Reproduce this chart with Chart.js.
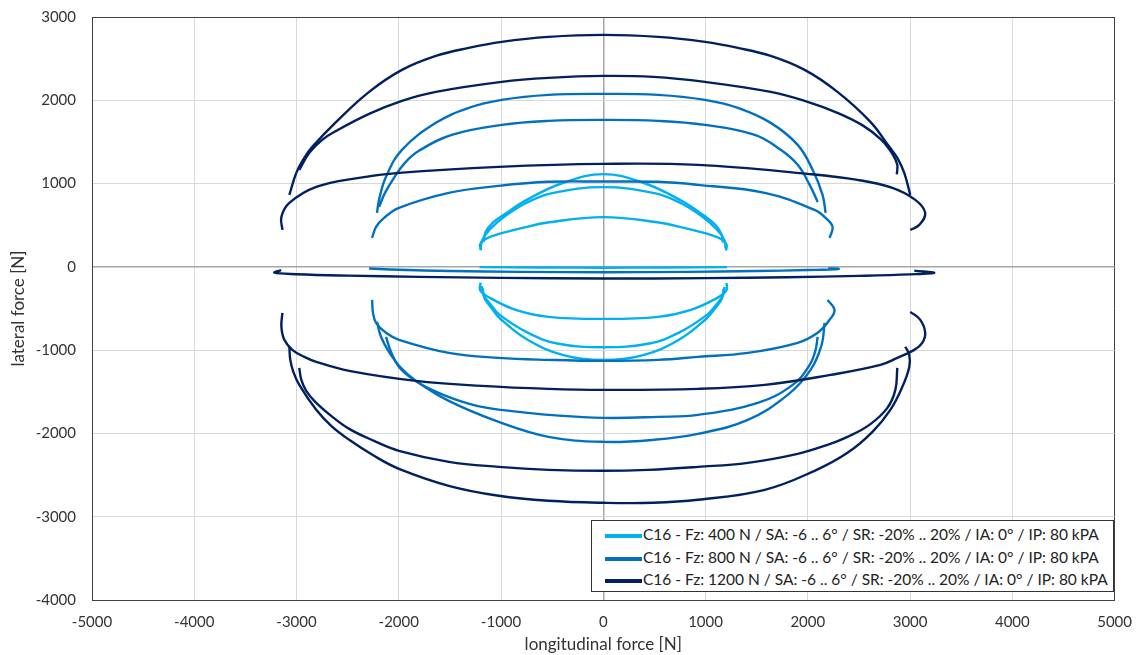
<!DOCTYPE html>
<html>
<head>
<meta charset="utf-8">
<script src="https://cdn.jsdelivr.net/npm/chart.js@4.4.0/dist/chart.umd.min.js"></script>
<style>
  body { margin: 0; background: #fff; }
  #wrap { position: relative; width: 1145px; height: 655px; }
  #legend {
    position: absolute; left: 591px; top: 520px; width: 521px; height: 70px;
    border: 1px solid #333; background: #fff;
    font-family: Lato, "Open Sans", sans-serif; font-size: 15.5px; color: #222;
  }
  .row { position: absolute; left: 13px; height: 18px; line-height: 18px; white-space: nowrap; }
  .row span.ln { display: inline-block; width: 37px; height: 4px; vertical-align: middle; margin-right: 1px; }
</style>
</head>
<body>
<div id="wrap">
  <canvas id="myChart" width="1145" height="655"></canvas>
  <div id="legend"></div>
</div>
<script>
// tick settings
const xMin = -5000, xMax = 5000
const yMin = -4000, yMax = 3000
const step = 1000

const seriesNames = [
  'C16 - Fz: 400 N / SA: -6 .. 6° / SR: -20% .. 20% / IA: 0° / IP: 80 kPA',
  'C16 - Fz: 800 N / SA: -6 .. 6° / SR: -20% .. 20% / IA: 0° / IP: 80 kPA',
  'C16 - Fz: 1200 N / SA: -6 .. 6° / SR: -20% .. 20% / IA: 0° / IP: 80 kPA'
]
const seriesColors = ['#00B0F0', '#0070C0', '#002060']

// Fz 400 N, one sweep per slip angle  [Fx, Fy]
const fz400_sa6 = [[-1170,300],[-1150,420],[-1080,530],[-980,620],[-740,810],[-390,1010],[0,1113],[390,1010],[740,810],[980,620],[1100,500],[1160,380],[1170,290]]
const fz400_sa4 = [[-1200,210],[-1185,320],[-1110,450],[-960,610],[-750,770],[-500,885],[0,957],[500,885],[750,770],[960,610],[1110,450],[1185,320],[1195,220]]
const fz400_sa2 = [[-1195,200],[-1205,270],[-1150,335],[-1020,395],[-800,465],[-530,535],[0,597],[530,535],[800,465],[1020,395],[1150,335],[1205,270],[1200,195]]
const fz400_sa0 = [[-1210,-3],[-600,-8],[0,-10],[600,-8],[1210,-3]]
const fz400_sam2 = [[-1200,-190],[-1205,-280],[-1120,-365],[-857,-516],[-536,-600],[0,-625],[536,-600],[857,-516],[1120,-370],[1205,-280],[1205,-195]]
const fz400_sam4 = [[-1190,-230],[-1170,-340],[-1100,-455],[-1010,-580],[-740,-790],[-450,-920],[0,-965],[450,-920],[740,-790],[1010,-580],[1100,-460],[1170,-345],[1185,-240]]
const fz400_sam6 = [[-1180,-260],[-1160,-380],[-1090,-500],[-1010,-620],[-740,-876],[-390,-1060],[0,-1117],[390,-1060],[740,-876],[1010,-620],[1095,-495],[1160,-380],[1175,-265]]

// Fz 800 N
const fz800_sa6 = [[-2213,648],[-2193,804],[-2125,1081],[-1969,1405],[-1637,1729],[-1316,1909],[-994,2005],[-536,2065],[0,2077],[536,2065],[994,2005],[1316,1909],[1637,1729],[1901,1465],[2047,1165],[2144,864],[2174,648]]
const fz800_sa4 = [[-2193,720],[-2135,888],[-2047,1069],[-1940,1249],[-1803,1393],[-1482,1585],[-994,1705],[-536,1753],[0,1765],[536,1753],[994,1705],[1482,1585],[1735,1405],[1901,1225],[2018,985],[2096,780]]
const fz800_sa2 = [[-2261,348],[-2222,480],[-2144,588],[-1998,708],[-1511,888],[-1023,972],[-536,1021],[0,1024],[536,1021],[926,984],[1579,888],[2066,684],[2174,588],[2242,480],[2213,348]]
const fz800_sa0 = [[-2290,-20],[-2000,-35],[-1500,-50],[-800,-60],[0,-65],[800,-60],[1500,-50],[2000,-38],[2300,-25],[2200,-15]]
const fz800_sam2 = [[-2261,-396],[-2252,-552],[-2222,-672],[-2125,-792],[-1998,-876],[-1511,-1033],[-1023,-1093],[-536,-1117],[0,-1129],[536,-1117],[926,-1081],[1413,-1033],[1901,-912],[2096,-792],[2213,-636],[2261,-516],[2193,-396]]
const fz800_sam4 = [[-2125,-840],[-2076,-1021],[-1998,-1201],[-1852,-1357],[-1676,-1477],[-1462,-1585],[-1189,-1681],[-828,-1741],[-536,-1777],[0,-1813],[536,-1801],[926,-1777],[1511,-1633],[1852,-1417],[2018,-1177],[2076,-997],[2096,-840]]
const fz800_sam6 = [[-2213,-660],[-2174,-840],[-2096,-1021],[-1979,-1213],[-1832,-1369],[-1511,-1609],[-1023,-1861],[-536,-2041],[0,-2101],[487,-2077],[926,-2005],[1413,-1837],[1803,-1537],[2027,-1237],[2135,-936],[2164,-672]]

// Fz 1200 N
const fz1200_sa6 = [[-3070,864],[-3002,1129],[-2924,1309],[-2846,1441],[-2612,1741],[-2290,2101],[-1969,2365],[-1637,2533],[-1316,2629],[-994,2701],[-536,2761],[0,2785],[536,2761],[994,2701],[1316,2629],[1637,2533],[1969,2365],[2290,2101],[2612,1741],[2797,1441],[2875,1309],[2943,1129],[3002,864]]
const fz1200_sa4 = [[-2973,1165],[-2875,1369],[-2749,1525],[-2612,1633],[-2290,1837],[-1969,1993],[-1637,2101],[-994,2221],[-536,2269],[0,2293],[487,2281],[994,2221],[1637,2101],[1969,1993],[2290,1849],[2544,1693],[2720,1525],[2827,1357],[2875,1225],[2870,1110]]
const fz1200_sa2 = [[-3138,444],[-3148,600],[-3070,768],[-2807,960],[-2388,1069],[-1998,1129],[-1023,1201],[0,1237],[926,1225],[1998,1117],[2485,1045],[2827,948],[3051,804],[3148,648],[3090,504],[3002,444]]
const fz1200_sa0 = [[-3150,-40],[-3216,-70],[-3000,-88],[-2500,-105],[-1800,-120],[-1000,-132],[0,-140],[1000,-135],[1800,-125],[2500,-108],[3000,-90],[3236,-72],[3041,-45]]
const fz1200_sam2 = [[-3138,-552],[-3148,-720],[-3119,-876],[-3041,-997],[-2924,-1081],[-2807,-1141],[-2485,-1249],[-1832,-1369],[-1189,-1429],[-536,-1465],[0,-1477],[926,-1465],[1579,-1417],[2222,-1297],[2710,-1177],[2875,-1093],[3041,-997],[3119,-912],[3148,-792],[3100,-636],[3002,-540]]
const fz1200_sam4 = [[-2973,-1213],[-2953,-1357],[-2905,-1489],[-2817,-1621],[-2661,-1789],[-2485,-1945],[-2242,-2089],[-1998,-2209],[-1511,-2341],[-1023,-2401],[-536,-2437],[0,-2449],[439,-2437],[926,-2401],[1413,-2353],[1901,-2245],[2193,-2137],[2388,-2041],[2602,-1897],[2778,-1693],[2856,-1477],[2875,-1213]]
const fz1200_sam6 = [[-3070,-960],[-3061,-1117],[-3031,-1261],[-2973,-1417],[-2807,-1717],[-2661,-1909],[-2485,-2077],[-2242,-2269],[-1998,-2425],[-1511,-2629],[-1023,-2749],[-536,-2809],[0,-2833],[487,-2833],[926,-2797],[1579,-2677],[2066,-2449],[2388,-2233],[2632,-1981],[2807,-1717],[2924,-1441],[2992,-1201],[2992,-1057],[2953,-960]]

const groups = [
  [fz400_sa6, fz400_sa4, fz400_sa2, fz400_sa0, fz400_sam2, fz400_sam4, fz400_sam6],
  [fz800_sa6, fz800_sa4, fz800_sa2, fz800_sa0, fz800_sam2, fz800_sam4, fz800_sam6],
  [fz1200_sa6, fz1200_sa4, fz1200_sa2, fz1200_sa0, fz1200_sam2, fz1200_sam4, fz1200_sam6]
]

const fontFam = 'Lato, "Open Sans", sans-serif'
const textCol = '#333'

const datasets = []
groups.forEach((sweeps, g) => {
  sweeps.forEach(pts => {
    datasets.push({
      label: seriesNames[g],
      data: pts.map(p => ({x: p[0], y: p[1]})),
      showLine: true,
      borderColor: seriesColors[g],
      backgroundColor: seriesColors[g],
      borderWidth: 2.4,
      pointRadius: 0,
      tension: 0.4,
      order: 3 - g
    })
  })
})

function gridCol(ctx, lo, hi) {
  const v = ctx.tick.value
  if (v === 0) return '#a6a6a6'
  if (v === lo || v === hi) return '#404040'
  return '#d9d9d9'
}

const ctx = document.getElementById('myChart').getContext('2d')
const myChart = new Chart(ctx, {
  type: 'scatter',
  data: { datasets: datasets },
  options: {
    responsive: false,
    animation: false,
    layout: { padding: { left: 0, top: 17, right: 27, bottom: 0 } },
    plugins: { legend: { display: false }, tooltip: { enabled: false } },
    scales: {
      x: {
        min: xMin, max: xMax,
        ticks: { stepSize: step, color: textCol, padding: 13, font: { family: fontFam, size: 15 }, callback: v => String(v) },
        grid: { color: c => gridCol(c, xMin, xMax), lineWidth: c => c.tick.value === 0 ? 1.5 : 1, drawTicks: false },
        border: { color: '#404040', width: 1 },
        title: { display: true, text: 'longitudinal force [N]', color: textCol, font: { family: fontFam, size: 17 }, padding: { top: 0, bottom: 0 } },
        afterFit: s => { s.height = 55 }
      },
      y: {
        min: yMin, max: yMax,
        ticks: { stepSize: step, color: textCol, padding: 16, font: { family: fontFam, size: 15 }, callback: v => String(v) },
        grid: { color: c => gridCol(c, yMin, yMax), lineWidth: c => c.tick.value === 0 ? 1.5 : 1, drawTicks: false },
        border: { color: '#404040', width: 1 },
        title: { display: true, text: 'lateral force [N]', color: textCol, font: { family: fontFam, size: 17 }, padding: { top: 8, bottom: 0 } },
        afterFit: s => { s.width = 92; s.paddingTop = 8; s.paddingBottom = 8 }
      }
    }
  }
})

// legend box in the lower right
const leg = document.getElementById('legend')
seriesNames.forEach((name, i) => {
  const row = document.createElement('div')
  row.className = 'row'
  row.style.top = (4 + i * 22.5) + 'px'
  row.innerHTML = '<span class="ln" style="background:' + seriesColors[i] + '"></span>' + name
  leg.appendChild(row)
})
</script>
</body>
</html>
